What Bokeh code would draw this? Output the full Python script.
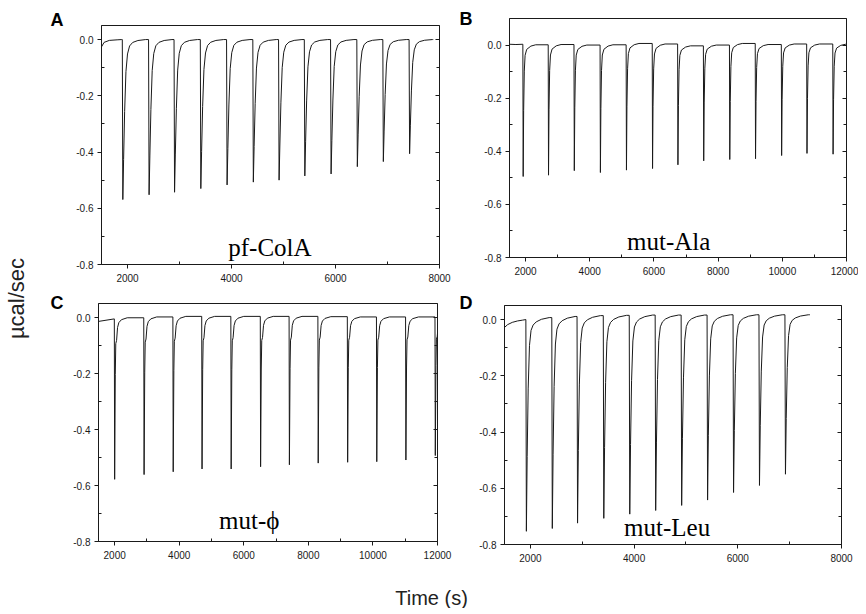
import math
from bokeh.plotting import figure
from bokeh.models import Range1d, FixedTicker, LinearAxis, Label, CustomJSTickFormatter
from bokeh.layouts import row, column
from bokeh.embed import file_html
from bokeh.resources import INLINE

# ---------------- data ----------------
# recovery profile after each injection: seconds after onset, fraction of peak depth
A_offsets = [0, 10, 25, 45, 70, 100, 140, 200, 300, 450]
A_fracs = [0, 1.0, 0.75, 0.45, 0.20, 0.09, 0.04, 0.018, 0.006, 0.0]
A_lead_t = [1500, 1550, 1650, 1800, 1890]
A_lead_v = [-0.026, -0.010, -0.003, -0.001, 0.0]
A_times = [1900, 2405, 2895, 3400, 3905, 4410, 4905, 5400, 5905, 6410, 6910, 7415]
A_peaks = [-0.569, -0.552, -0.543, -0.530, -0.517, -0.507, -0.500, -0.485, -0.478, -0.452, -0.434, -0.406]
A_base = [0.0, 0.0, 0.0, 0.0, 0.0, 0.0, 0.0, 0.0, 0.0, 0.0, 0.0, 0.0]
A_end = (7880, 0.0)

B_offsets = [0, 10, 25, 45, 70, 120, 250, 400]
B_fracs = [0, 1.0, 0.5, 0.2, 0.08, 0.035, 0.01, 0.0]
B_lead_t = [1500, 1700]
B_lead_v = [0.003, 0.002]
B_times = [1916, 2706, 3509, 4322, 5134, 5947, 6738, 7541, 8353, 9156, 9969, 10759, 11572]
B_peaks = [-0.495, -0.490, -0.473, -0.480, -0.471, -0.465, -0.451, -0.436, -0.431, -0.428, -0.416, -0.408, -0.411]
B_base = [0.003, 0.001, 0.002, 0.0, 0.001, 0.006, 0.004, -0.003, 0.0, 0.006, 0.002, 0.004, 0.004]
B_end = (12000, 0.003)

C_offsets = [0, 10, 30, 45, 70, 100, 140, 220, 400]
C_fracs = [0, 1.0, 0.35, 0.16, 0.14, 0.06, 0.03, 0.012, 0.0]
C_lead_t = [1500, 1990]
C_lead_v = [-0.014, -0.005]
C_times = [1990, 2902, 3804, 4697, 5599, 6511, 7403, 8295, 9207, 10109, 11011, 11922]
C_peaks = [-0.578, -0.561, -0.551, -0.541, -0.541, -0.533, -0.526, -0.520, -0.517, -0.515, -0.509, -0.493]
C_base = [-0.005, -0.001, 0.002, 0.004, 0.004, 0.004, 0.004, 0.004, 0.003, 0.002, 0.002, 0.002]
C_end = None

D_offsets = [0, 10, 25, 45, 70, 100, 140, 200, 300, 450]
D_fracs = [0, 1.0, 0.65, 0.33, 0.13, 0.06, 0.035, 0.02, 0.008, 0.0]
D_lead_t = [1500, 1560, 1650, 1750, 1850]
D_lead_v = [-0.028, -0.018, -0.010, -0.005, -0.002]
D_times = [1912, 2412, 2899, 3405, 3906, 4406, 4907, 5407, 5908, 6408, 6909]
D_peaks = [-0.753, -0.743, -0.724, -0.707, -0.692, -0.679, -0.661, -0.642, -0.615, -0.590, -0.550]
D_base = [0.0, 0.007, 0.011, 0.014, 0.015, 0.016, 0.016, 0.016, 0.017, 0.017, 0.017]
D_end = (7390, 0.017)

y_ticks = [0.0, -0.2, -0.4, -0.6, -0.8]
y_minor = [-0.1, -0.3, -0.5, -0.7]
x_ticks_short = [2000, 4000, 6000, 8000]
x_minor_short = [3000, 5000, 7000]
x_ticks_long = [2000, 4000, 6000, 8000, 10000, 12000]
x_minor_long = [3000, 5000, 7000, 9000, 11000]

panel_letters = ["A", "B", "C", "D"]
panel_names = ["pf-ColA", "mut-Ala", "mut-\u03d5", "mut-Leu"]
y_title = "\u00b5cal/sec"
x_title = "Time (s)"

SANS = "Liberation Sans"
SERIF = "Liberation Serif"
INK = "#1a1a1a"


def build_trace(lead_t, lead_v, times, peaks, base, end, offs, fracs):
    xs = list(lead_t)
    ys = list(lead_v)
    for i, (t, pk) in enumerate(zip(times, peaks)):
        b0 = base[i]
        b1 = base[i + 1] if i + 1 < len(base) else (end[1] if end else base[i])
        xs.append(t)
        ys.append(b0)
        for o, f in zip(offs[1:], fracs[1:]):
            xs.append(t + o)
            ys.append(b1 + f * (pk - b1))
    if end is not None and end[0] > xs[-1]:
        xs.append(end[0])
        ys.append(end[1])
    return xs, ys


def blank(w, h):
    f = figure(width=w, height=h, output_backend="svg", toolbar_location=None,
               x_range=Range1d(0, w), y_range=Range1d(0, h),
               x_axis_type=None, y_axis_type=None,
               min_border_left=0, min_border_right=0, min_border_top=0, min_border_bottom=0)
    f.outline_line_color = None
    f.grid.visible = False
    f.frame_align = False
    return f


def letter_strip(w, h, letters, x, ys):
    f = blank(w, h)
    for letter, y in zip(letters, ys):
        f.add_layout(Label(x=x, y=y, text=letter, text_font=SANS, text_font_size="18px",
                           text_font_style="bold", text_color="black",
                           text_align="left", text_baseline="middle"))
    return f


def make_panel(w, h, bl, br, bt, bb, xr, yr, xt, xm, trace, name, name_xy):
    p = figure(width=w, height=h, output_backend="svg", toolbar_location=None,
               x_range=Range1d(*xr), y_range=Range1d(*yr),
               min_border_left=bl, min_border_right=br, min_border_top=bt, min_border_bottom=bb)
    p.frame_align = False
    p.grid.visible = False
    p.outline_line_color = INK
    p.outline_line_width = 1
    xs, ys = trace
    p.line(xs, ys, line_color=INK, line_width=1)

    p.xaxis.ticker = FixedTicker(ticks=xt, minor_ticks=xm)
    p.yaxis.ticker = FixedTicker(ticks=y_ticks, minor_ticks=y_minor)
    p.xaxis.formatter = CustomJSTickFormatter(code="return tick.toFixed(0);")
    p.yaxis.formatter = CustomJSTickFormatter(code="return tick.toFixed(1);")
    for ax in (p.xaxis[0], p.yaxis[0]):
        ax.axis_line_color = INK
        ax.major_tick_line_color = INK
        ax.minor_tick_line_color = INK
        ax.major_tick_out = 4
        ax.major_tick_in = 0
        ax.minor_tick_out = 0
        ax.minor_tick_in = 3
        ax.major_label_text_font = SANS
        ax.major_label_text_font_size = "10px"
        ax.major_label_text_color = INK
    p.xaxis.major_label_standoff = 5
    p.yaxis.major_label_standoff = 4

    rax = LinearAxis(ticker=FixedTicker(ticks=y_ticks, minor_ticks=y_minor),
                     formatter=CustomJSTickFormatter(code="return '';"))
    rax.axis_line_color = INK
    rax.major_tick_line_color = INK
    rax.minor_tick_line_color = INK
    rax.major_tick_out = 0
    rax.major_tick_in = 4
    rax.minor_tick_out = 0
    rax.minor_tick_in = 3
    rax.major_label_standoff = 0
    rax.major_label_text_font_size = "1px"
    p.add_layout(rax, "right")

    p.add_layout(Label(x=name_xy[0], y=name_xy[1], text=name, text_font=SERIF,
                       text_font_size="25px", text_color="black",
                       text_align="center", text_baseline="middle"))
    return p


tA = build_trace(A_lead_t, A_lead_v, A_times, A_peaks, A_base, A_end, A_offsets, A_fracs)
tB = build_trace(B_lead_t, B_lead_v, B_times, B_peaks, B_base, B_end, B_offsets, B_fracs)
tC = build_trace(C_lead_t, C_lead_v, C_times, C_peaks, C_base, C_end, C_offsets, C_fracs)
tD = build_trace(D_lead_t, D_lead_v, D_times, D_peaks, D_base, D_end, D_offsets, D_fracs)

TOP_H = 296
BOT_H = 282
FULL_H = TOP_H + BOT_H

pA = make_panel(384, TOP_H, 31, 15, 25, 32, (1500, 8000), (-0.8, 0.05),
                x_ticks_short, x_minor_short, tA, panel_names[0], (4739, -0.740))
pB = make_panel(382, TOP_H, 33, 12, 18, 39, (1500, 12000), (-0.8, 0.1),
                x_ticks_long, x_minor_long, tB, panel_names[1], (6462, -0.741))
pC = make_panel(384, BOT_H, 28, 17, 7, 37, (1500, 12000), (-0.8, 0.05),
                x_ticks_long, x_minor_long, tC, panel_names[2], (6168, -0.726))
pD = make_panel(382, BOT_H, 27, 17, 9, 34, (1500, 8000), (-0.8, 0.05),
                x_ticks_short, x_minor_short, tD, panel_names[3], (4637, -0.741))

sAC = letter_strip(32, FULL_H, [panel_letters[0], panel_letters[2]], 12,
                   [FULL_H - 19.5, FULL_H - 302])
sBD = letter_strip(22, FULL_H, [panel_letters[1], panel_letters[3]], 5,
                   [FULL_H - 18, FULL_H - 302])

py = blank(38, FULL_H)
py.add_layout(Label(x=16, y=FULL_H - 298, text=y_title, angle=math.pi / 2, text_font=SANS,
                    text_font_size="22px", text_color="#222222",
                    text_align="center", text_baseline="middle"))

px = blank(858, 30)
px.add_layout(Label(x=431, y=11, text=x_title, text_font=SANS,
                    text_font_size="20px", text_color="#222222",
                    text_align="center", text_baseline="middle"))

layout = column(row(py, sAC, column(pA, pC), sBD, column(pB, pD)), px)

open("out.html", "w").write(file_html(layout, INLINE))
